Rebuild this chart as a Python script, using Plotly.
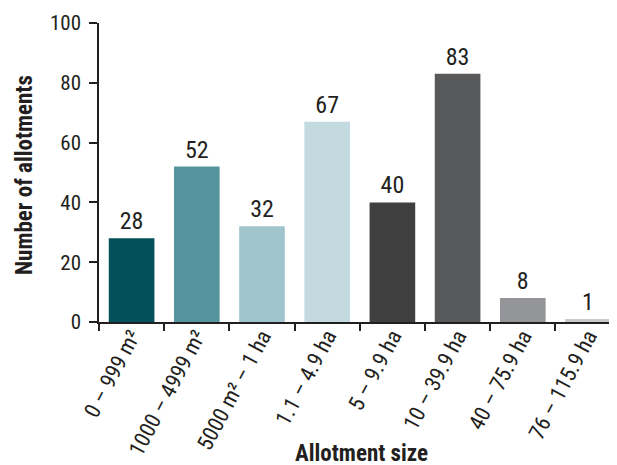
import plotly.graph_objects as go

categories = ["0 – 999 m²", "1000 – 4999 m²", "5000 m² – 1 ha", "1.1 – 4.9 ha",
              "5 – 9.9 ha", "10 – 39.9 ha", "40 – 75.9 ha", "76 – 115.9 ha"]
values = [28, 52, 32, 67, 40, 83, 8, 1]
colors = ["#034f5a", "#5595a0", "#a0c4cb", "#c3dbe0",
          "#3f3f3f", "#58595b", "#939598", "#c8c8c8"]

FONT = "Roboto Condensed, Liberation Sans Narrow, Arial Narrow, sans-serif"
INK = "#231f20"

OFF = 8  # default page body margin
W, H = 617 - OFF, 465 - OFF
L, T = 99 - OFF, 23 - OFF
PW, PH = 518, 299
R = W - L - PW
B = H - T - PH

def px_x(x):  # reference pixel -> paper x
    return (x - OFF - L) / PW

def px_y(y):  # reference pixel -> paper y
    return (T + PH - (y - OFF)) / PH

fig = go.Figure(go.Bar(
    x=list(range(len(categories))),
    y=values,
    marker=dict(color=colors, line=dict(width=0)),
    text=[str(v) for v in values],
    textposition="outside",
    textfont=dict(size=24, color=INK, family=FONT),
    cliponaxis=False,
    width=0.7,
))

fig.update_layout(
    width=W, height=H,
    margin=dict(l=L, r=R, t=T, b=B, autoexpand=False),
    paper_bgcolor="white", plot_bgcolor="white",
    font=dict(family=FONT, color=INK),
    showlegend=False,
    xaxis=dict(
        range=[-0.5, 7.445],
        tickmode="array",
        tickvals=list(range(len(categories))),
        ticktext=categories,
        tickangle=-62,
        ticklabelposition="outside",
        ticklabelstandoff=-9,
        tickfont=dict(size=22, family=FONT, color=INK),
        showline=True, linecolor=INK, linewidth=1.5,
        ticks="", showgrid=False, zeroline=False, automargin=False,
    ),
    yaxis=dict(
        range=[0, 100],
        tickvals=[0, 20, 40, 60, 80, 100],
        tickfont=dict(size=21, family=FONT, color=INK),
        ticklabelstandoff=4,
        showline=True, linecolor=INK, linewidth=1.5,
        ticks="outside", ticklen=8, tickcolor=INK, tickwidth=1.5,
        showgrid=False, zeroline=False, automargin=False,
    ),
    annotations=[
        dict(text="<b>Number of allotments</b>", xref="paper", yref="paper",
             x=px_x(24), y=px_y(175), textangle=-90,
             showarrow=False, font=dict(size=23, family=FONT, color=INK),
             xanchor="center", yanchor="middle"),
        dict(text="<b>Allotment size</b>", xref="paper", yref="paper",
             x=px_x(361), y=px_y(453),
             showarrow=False, font=dict(size=23, family=FONT, color=INK),
             xanchor="center", yanchor="middle"),
    ],
)

# category boundary tick marks on x axis (drawn via a second overlaying axis)
fig.add_trace(go.Scatter(x=[None], y=[None], xaxis="x2", showlegend=False))
fig.update_layout(
    xaxis2=dict(
        overlaying="x", side="bottom", anchor="y",
        range=[-0.5, 7.445],
        tickvals=[i - 0.5 for i in range(len(categories))],
        showticklabels=False,
        ticks="outside", ticklen=8, tickcolor=INK, tickwidth=1.5,
        showgrid=False, zeroline=False, showline=False, automargin=False,
    )
)

fig.write_html("out.html")
